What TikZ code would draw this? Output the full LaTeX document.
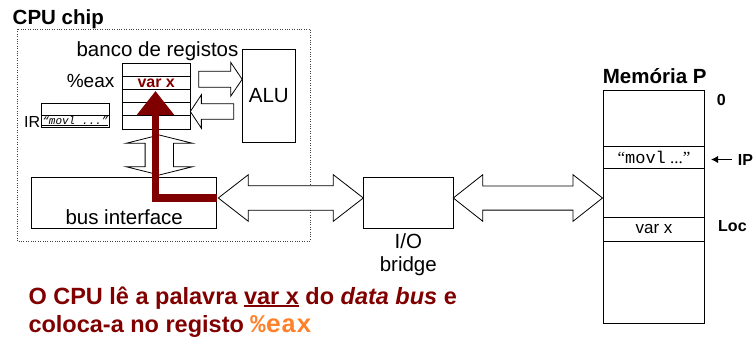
\documentclass[tikz,border=0pt]{standalone}
\usepackage{fontspec}
\setmainfont{Liberation Sans}
\setmonofont{Liberation Mono}
\newfontfamily\quotefont{Liberation Serif}
\usetikzlibrary{calc}
\usetikzlibrary{positioning}
\usetikzlibrary{arrows.meta}

\definecolor{wordred}{RGB}{128,0,0}
\definecolor{regorange}{RGB}{255,128,40}

% thick underline for the message
\newcommand{\undl}[1]{\setbox0\hbox{#1}\rlap{\rule[-3pt]{\wd0}{1.8pt}}\box0\relax}

\tikzset{
  txt/.style={inner sep=0pt, font=\fontsize{20.5}{24}\selectfont},
  txtb/.style={inner sep=0pt, font=\bfseries\fontsize{20.5}{24}\selectfont},
  sidelbl/.style={inner sep=0pt, font=\bfseries\fontsize{16}{18}\selectfont},
  box/.style={draw, line width=0.8pt, inner sep=0pt},
  regcell/.style={box, minimum width=67.5pt, minimum height=13.2pt},
  memcell/.style={box, minimum width=101pt, font=\fontsize{17}{20}\selectfont},
  fat/.style={draw, fill=white, line width=0.8pt, line join=miter},
  datapath/.style={draw=wordred, line width=7.5pt, line join=miter,
    -{Triangle[length=24pt,width=36pt]}},
}

\begin{document}
\begin{tikzpicture}[x=1pt, y=-1pt]
  \useasboundingbox (0,0) rectangle (756,337);

  % CPU chip
  \node [txtb, anchor=base west] (cpu) at (12.5,25) {CPU chip};
  \draw [dash pattern=on 0.8pt off 1.6pt, line width=0.8pt, black!75] (17,29) rectangle (310,241);

  % register file
  \node [txt, anchor=base] (bank) at (157.5,57) {banco de registos};
  \foreach \i in {0,...,4}
    \node [regcell] (r\i) at (156.2,69.6+13.2*\i) {};
  \node [inner sep=0pt, text=wordred, font=\bfseries\fontsize{16}{18}\selectfont] (varx) at (r1) {var x};
  \node [inner sep=0pt, anchor=base east, font=\fontsize{19}{22}\selectfont] (eax) at ($(r1.west)+(-7.5,4.9)$) {\%eax};

  % instruction register
  \node [box, minimum width=67.3pt, minimum height=11.7pt] (ir0) at (75.35,109.15) {};
  \node [box, minimum width=67.3pt, minimum height=12.5pt, font=\ttfamily\itshape\fontsize{11}{12}\selectfont] (ir1) at (75.35,121.25) {\underline{“movl ...”}};
  \node [inner sep=0pt, anchor=base east, font=\fontsize{16}{18}\selectfont] (irlbl) at ($(ir1.west)+(-1,6.3)$) {IR};

  % ALU
  \node [box, txt, minimum width=52.5pt, minimum height=93pt] (alu) at (268.8,95.8) {ALU};

  % register file <-> ALU
  \coordinate (toalu) at (alu.west |- 0,79.3);
  \draw [fat] (toalu) -- ++(-11.5,-17) -- ++(0,9) -- ++(-32,0) -- ++(0,16) -- ++(32,0) -- ++(0,9) -- cycle;
  \coordinate (fromalu) at (r3.east |- 0,111.5);
  \draw [fat] (fromalu) -- ++(11,-16.7) -- ++(0,8.9) -- ++(32.3,0) -- ++(0,15.6) -- ++(-32.3,0) -- ++(0,8.9) -- cycle;

  % bus interface
  \node [box, minimum width=185pt, minimum height=50.6pt] (bus) at (124.2,203) {};
  \node [txt, anchor=base] (buslbl) at ($(bus.south)+(0,-4.3)$) {bus interface};

  % registers <-> bus interface
  \coordinate (regport) at (159.3,135);
  \coordinate (busup) at (159.3,175);
  \draw [fat] (regport) -- ++(33.3,8.3) -- ++(-19.1,0) -- ++(0,23.4) -- ++(19.1,0) -- (busup)
    -- ++(-33.3,-8.3) -- ++(19.1,0) -- ++(0,-23.4) -- ++(-19.1,0) -- cycle;

  % I/O bridge
  \node [box, minimum width=90pt, minimum height=50.6pt] (bridge) at (408.3,203) {};
  \node [inner sep=0pt, align=center, anchor=north, font=\fontsize{20.5}{22.7}\selectfont] (bridgelbl)
    at ($(bridge.south)+(0,4.8)$) {I/O\\bridge};

  % system bus
  \coordinate (busport) at (218.3,198);
  \coordinate (bridgein) at (363.3,198);
  \draw [fat] (busport) -- ++(30,-23.3) -- ++(0,11.1) -- ++(85,0) -- ++(0,-11.1) -- (bridgein)
    -- ++(-30,23.3) -- ++(0,-11.1) -- ++(-85,0) -- ++(0,11.1) -- cycle;

  % memory bus
  \coordinate (bridgeout) at (453.3,198);
  \coordinate (memport) at (602.5,198);
  \draw [fat] (bridgeout) -- ++(29.5,-23.3) -- ++(0,11.2) -- ++(90.2,0) -- ++(0,-11.2) -- (memport)
    -- ++(-29.5,23.3) -- ++(0,-11.2) -- ++(-90.2,0) -- ++(0,11.2) -- cycle;

  % data going from the bus interface into %eax
  \draw [datapath] (bus.east |- 0,198) -- (155.5,198) -- (155.5,91);

  % main memory
  \node [txtb, anchor=base west] (memlbl) at (602.7,83.3) {Memória P};
  \node [box, minimum width=101pt, minimum height=233.3pt] (mem) at (654,206.65) {};
  \node [memcell, minimum height=22pt] (instr) at (654,157.7) {{\quotefont “}\texttt{movl}{\quotefont\ ...”}};
  \node [memcell, minimum height=23.3pt] (word) at (654,229.35) {var x};
  \node [sidelbl, anchor=base west] (zero) at (716.7,106) {0};
  \node [sidelbl, anchor=base west] (ip) at (737.7,165) {IP};
  \draw [line width=1.4pt, -{Latex[length=7pt,width=7.5pt]}] ([xshift=-6pt]ip.west) -- (ip.west -| 711,0);
  \node [sidelbl, anchor=base west] (loc) at (718,231.7) {Loc};

  % message
  \node [inner sep=0pt, anchor=base west, text=wordred, font=\bfseries\fontsize{23.5}{28}\selectfont] (msg1)
    at (28.3,304) {O CPU lê a palavra \undl{var x} do \textit{data bus} e};
  \node [inner sep=0pt, anchor=base west, text=wordred, font=\bfseries\fontsize{23.5}{28}\selectfont] (msg2)
    at (28.3,332.7) {coloca-a no registo \textcolor{regorange}{\ttfamily\fontsize{25.5}{28}\selectfont\%eax}};
\end{tikzpicture}
\end{document}
